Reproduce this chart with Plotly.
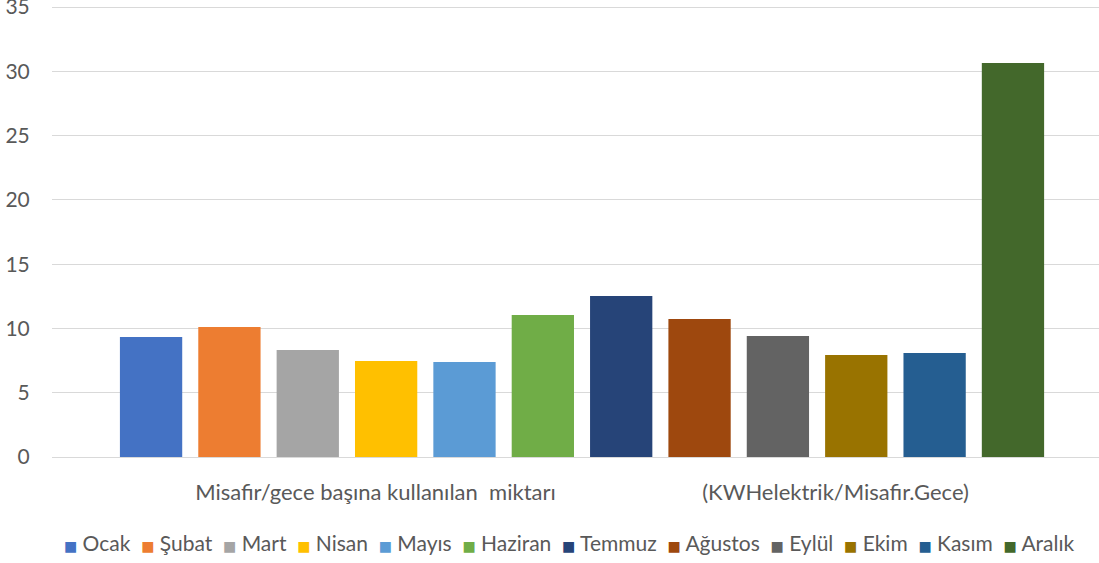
import plotly.graph_objects as go

category = ["Misafir/gece başına kullanılan\u00a0\u00a0miktarı" + "\u00a0" * 26 + "(KWHelektrik/Misafir.Gece)"]
months = ["Ocak", "Şubat", "Mart", "Nisan", "Mayıs", "Haziran",
          "Temmuz", "Ağustos", "Eylül", "Ekim", "Kasım", "Aralık"]
values = [9.33, 10.11, 8.32, 7.47, 7.39, 11.04, 12.52, 10.73, 9.41, 7.93, 8.09, 30.64]
colors = ["#4472C4", "#ED7D31", "#A5A5A5", "#FFC000", "#5B9BD5", "#70AD47",
          "#264478", "#9E480E", "#636363", "#997300", "#255E91", "#43682B"]
y_ticks = [0, 5, 10, 15, 20, 25, 30, 35]

FONT = "Lato, 'Open Sans', sans-serif"
TXT = "#595959"
FS = 21

fig = go.Figure()
for m, v, c in zip(months, values, colors):
    fig.add_trace(go.Bar(name=m, x=category, y=[v], marker=dict(color=c, line=dict(width=0))))

# Legend rendered as one centered line of text with coloured square markers
legend_parts = [
    f'<span style="color:{c};font-size:14px;font-family:DejaVu Sans">■</span>\u00a0{m}'
    for m, c in zip(months, colors)
]
legend_text = "\u00a0\u00a0".join(legend_parts)
fig.add_annotation(
    text=legend_text, xref="paper", yref="paper", x=0.494, y=-0.19 * 450 / 456,
    xanchor="center", yanchor="middle", showarrow=False,
    font=dict(family=FONT, size=FS, color=TXT),
)

fig.update_layout(
    width=1099, height=563,
    margin=dict(l=52, r=0, t=1, b=106),
    paper_bgcolor="white", plot_bgcolor="white",
    barmode="group", bargap=0.113, bargroupgap=0.205,
    font=dict(family=FONT, size=FS, color=TXT),
    showlegend=False,
    xaxis=dict(range=[-0.5, 0.4877], showgrid=False, showline=False, zeroline=False,
               automargin=False,
               ticks="outside", ticklen=16, tickcolor="rgba(0,0,0,0)",
               tickfont=dict(family=FONT, size=22, color=TXT)),
    yaxis=dict(range=[0, 35.47], tickvals=y_ticks, showgrid=True, gridcolor="#D9D9D9",
               gridwidth=1, zeroline=True, zerolinecolor="#D9D9D9", zerolinewidth=1,
               automargin=False, ticklabeloverflow="allow",
               showline=False, ticks="outside", ticklen=17, tickcolor="rgba(0,0,0,0)",
               tickfont=dict(family=FONT, size=FS, color=TXT)),
)

fig.write_html("out.html", config={"displayModeBar": False},
               post_script="document.body.style.margin='0';")
